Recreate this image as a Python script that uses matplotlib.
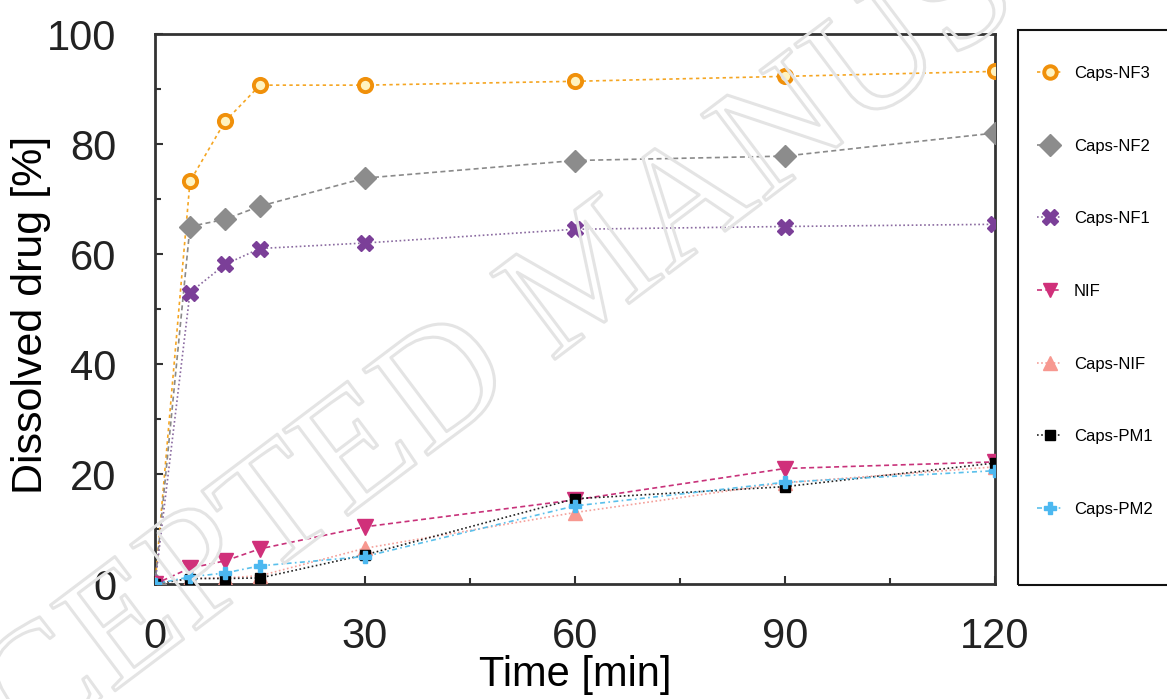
import matplotlib
matplotlib.use("Agg")
import matplotlib.pyplot as plt
from matplotlib.patches import Rectangle
from matplotlib.ticker import MultipleLocator
import matplotlib.patheffects as pe

plt.rcParams['font.family'] = ['Liberation Sans', 'DejaVu Sans']

time_min = [0, 5, 10, 15, 30, 60, 90, 120]
caps_nf3 = [0, 73.2, 84.1, 90.7, 90.7, 91.4, 92.3, 93.2]
caps_nf2 = [0, 65.0, 66.3, 68.7, 73.8, 77.0, 77.8, 82.0]
caps_nf1 = [0, 53.0, 58.1, 61.0, 62.0, 64.5, 65.0, 65.4]
nif = [0, 2.9, 4.2, 6.4, 10.4, 15.3, 21.0, 22.2]
caps_nif = [0, 1.0, 1.1, 1.5, 6.5, 13.0, 18.4, 21.3]
caps_pm1 = [0, 1.0, 1.0, 1.1, 5.3, 15.5, 17.7, 22.0]
caps_pm2 = [0, 1.3, 2.0, 3.3, 5.0, 14.2, 18.5, 20.6]

x_ticks = [0, 30, 60, 90, 120]
y_ticks = [0, 20, 40, 60, 80, 100]

fig = plt.figure(figsize=(11.67, 6.99), dpi=100)
ax = fig.add_axes([155/1167, 1-584/699, 840/1167, 550/699])

lw = 1.2
ax.plot(time_min, caps_nf3, linestyle=(0, (2, 2)), color='#f5a623', lw=lw,
        marker='o', ms=9.5, mfc='#fff3c0', mec='#f0900a', mew=2.8, label='Caps-NF3', zorder=5)
ax.plot(time_min, caps_nf2, linestyle=(0, (3, 2)), color='#8a8a8a', lw=lw,
        marker='D', ms=11.5, mfc='#8c8c8c', mec='#8c8c8c', label='Caps-NF2', zorder=5)
ax.plot(time_min, caps_nf1, linestyle=(0, (1, 1.5)), color='#8a6aa0', lw=lw,
        marker='X', ms=12, mfc='#7b3f98', mec='#7b3f98', label='Caps-NF1', zorder=5)
ax.plot(time_min, nif, linestyle=(0, (3, 2)), color='#c8327a', lw=lw,
        marker='v', ms=11, mfc='#d0307a', mec='#d0307a', label='NIF', zorder=5)
ax.plot(time_min, caps_nif, linestyle=(0, (1, 1.5)), color='#f4a09a', lw=lw,
        marker='^', ms=10, mfc='#f79890', mec='#f79890', label='Caps-NIF', zorder=5)
ax.plot(time_min, caps_pm1, linestyle=(0, (1, 1.5)), color='#222222', lw=lw,
        marker='s', ms=7, mfc='#000000', mec='#000000', label='Caps-PM1', zorder=5)
ax.plot(time_min, caps_pm2, linestyle=(0, (3, 2, 1, 2)), color='#5bc0eb', lw=lw,
        marker='P', ms=9, mfc='#4cb8f0', mec='#4cb8f0', label='Caps-PM2', zorder=5)

ax.set_xlim(0, 120)
ax.set_ylim(0, 100)
ax.set_xticks(x_ticks)
ax.set_yticks(y_ticks)
ax.xaxis.set_minor_locator(MultipleLocator(15))
ax.yaxis.set_minor_locator(MultipleLocator(10))
ax.tick_params(which='both', direction='in', color='#333333', width=1.5,
               labelsize=30)
ax.tick_params(axis='x', which='major', pad=24)
ax.tick_params(axis='y', which='major', pad=28)
ax.tick_params(which='major', length=6)
ax.tick_params(which='minor', length=4)
for s in ax.spines.values():
    s.set_linewidth(2)
    s.set_color('#333333')
ax.set_xlabel('Time [min]', fontsize=30, labelpad=-2)
ax.set_ylabel('Dissolved drug [%]', fontsize=31)
ax.yaxis.set_label_coords(-0.124, 0.49)
for t in ax.get_xticklabels() + ax.get_yticklabels():
    t.set_color('#222222')

# legend box
fig.patches.append(Rectangle((1018/1167, 1-585/699), 0.2, 555/699,
                             transform=fig.transFigure, fill=False,
                             edgecolor='#111111', linewidth=1.5, zorder=1))
handles, labels = ax.get_legend_handles_labels()
fig.legend(handles, labels, loc='upper left',
           bbox_to_anchor=(1037/1167, 1-66/699), frameon=False,
           fontsize=12, labelspacing=3.46, handlelength=1.5,
           handletextpad=0.7, borderpad=0, borderaxespad=0, markerscale=0.95)

# watermark
fig.text(595/1167, 1-280/699, 'ACCEPTED MANUSCRIPT', fontsize=118,
         family=['Liberation Serif', 'DejaVu Serif'], rotation=37,
         rotation_mode='anchor', ha='center', va='center', color='none',
         path_effects=[pe.withStroke(linewidth=2.2, foreground='#e4e4e4')],
         zorder=0)

fig.savefig('out.png', dpi=100)
